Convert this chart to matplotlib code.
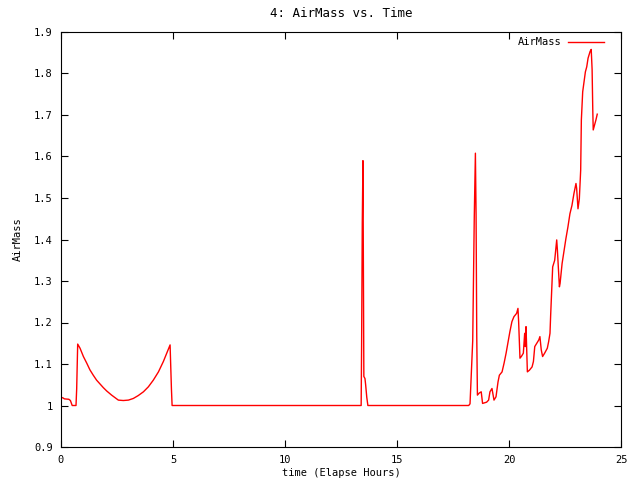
import matplotlib
matplotlib.use("Agg")
import matplotlib.pyplot as plt

# values (elapsed hours, airmass)
time_h = [0.00, 0.10, 0.15, 0.35, 0.42, 0.50, 0.67, 0.70, 0.745,
          0.85, 1.00, 1.15, 1.29, 1.44, 1.59, 1.74, 1.89, 2.04, 2.26,
          2.56, 2.78, 3.01, 3.23, 3.45, 3.68, 3.90, 4.12, 4.35, 4.57,
          4.75, 4.87, 4.93, 4.96,
          6.0, 8.0, 10.0, 12.0, 13.40,
          13.42, 13.45, 13.48, 13.50, 13.52, 13.57, 13.60, 13.65, 13.70,
          15.0, 17.0, 18.20, 18.26, 18.38, 18.45, 18.50, 18.53, 18.56,
          18.59, 18.67, 18.76, 18.82, 19.00, 19.09, 19.15, 19.24, 19.33,
          19.42, 19.51, 19.57, 19.69, 19.78, 19.87, 19.96, 20.04, 20.13,
          20.22, 20.34, 20.40, 20.43, 20.49, 20.55, 20.64, 20.70, 20.73,
          20.76, 20.79, 20.82, 20.91, 21.03, 21.09, 21.15, 21.24, 21.33,
          21.38, 21.44, 21.50, 21.59, 21.71, 21.77, 21.83, 21.86, 21.92,
          21.95, 22.04, 22.13, 22.16, 22.22, 22.25, 22.28, 22.37, 22.46,
          22.54, 22.63, 22.72, 22.81, 22.90, 22.99, 23.02, 23.08, 23.14,
          23.20, 23.23, 23.29, 23.35, 23.41, 23.47, 23.53, 23.62, 23.67,
          23.71, 23.74, 23.76, 23.82, 23.88, 23.94]
airmass = [1.020, 1.018, 1.016, 1.015, 1.012, 1.000, 1.000, 1.040, 1.148,
           1.138, 1.118, 1.102, 1.086, 1.073, 1.061, 1.052, 1.043, 1.035, 1.025,
           1.013, 1.012, 1.013, 1.017, 1.024, 1.033, 1.045, 1.061, 1.081, 1.106,
           1.130, 1.146, 1.040, 1.000,
           1.0, 1.0, 1.0, 1.0, 1.000,
           1.146, 1.440, 1.590, 1.330, 1.070, 1.065, 1.050, 1.020, 1.000,
           1.0, 1.0, 1.000, 1.004, 1.156, 1.455, 1.608, 1.460, 1.170,
           1.025, 1.030, 1.033, 1.005, 1.008, 1.013, 1.033, 1.041, 1.013,
           1.021, 1.057, 1.073, 1.081, 1.102, 1.126, 1.154, 1.178, 1.202,
           1.214, 1.222, 1.234, 1.202, 1.114, 1.118, 1.126, 1.174, 1.142,
           1.190, 1.138, 1.081, 1.085, 1.093, 1.106, 1.142, 1.150, 1.158,
           1.166, 1.134, 1.118, 1.126, 1.138, 1.154, 1.174, 1.218, 1.294,
           1.334, 1.350, 1.399, 1.375, 1.314, 1.286, 1.294, 1.342, 1.374,
           1.402, 1.430, 1.462, 1.482, 1.511, 1.535, 1.523, 1.474, 1.498,
           1.567, 1.688, 1.756, 1.780, 1.804, 1.816, 1.837, 1.853, 1.858,
           1.810, 1.712, 1.664, 1.676, 1.688, 1.702]

x_ticks = [0, 5, 10, 15, 20, 25]
y_ticks = [0.9, 1.0, 1.1, 1.2, 1.3, 1.4, 1.5, 1.6, 1.7, 1.8, 1.9]
y_labels = ["0.9", "1", "1.1", "1.2", "1.3", "1.4", "1.5", "1.6", "1.7", "1.8", "1.9"]

plt.rcParams['font.family'] = ['DejaVu Sans Mono']
plt.rcParams['font.size'] = 7.5

fig = plt.figure(figsize=(6.4, 4.8), dpi=100)
ax = fig.add_axes([61/640, 33/480, 560/640, 415/480])
ax.plot(time_h, airmass, color='red', lw=1, label='AirMass')
ax.set_xlim(0, 25)
ax.set_ylim(0.9, 1.9)
ax.set_xticks(x_ticks)
ax.set_yticks(y_ticks)
ax.set_yticklabels(y_labels)
ax.tick_params(direction='in', top=True, right=True, length=5, width=0.8, pad=6)
for s in ax.spines.values():
    s.set_linewidth(0.8)
ax.set_title('4: AirMass vs. Time', pad=11)
ax.set_xlabel('time (Elapse Hours)', labelpad=2)
ax.set_ylabel('AirMass', labelpad=8)
ax.legend(loc='upper right', frameon=False, markerfirst=False,
          handlelength=3.4, handletextpad=0.6, borderaxespad=0.3,
          bbox_to_anchor=(0.982, 1.005))
fig.savefig('out.png', dpi=100)
